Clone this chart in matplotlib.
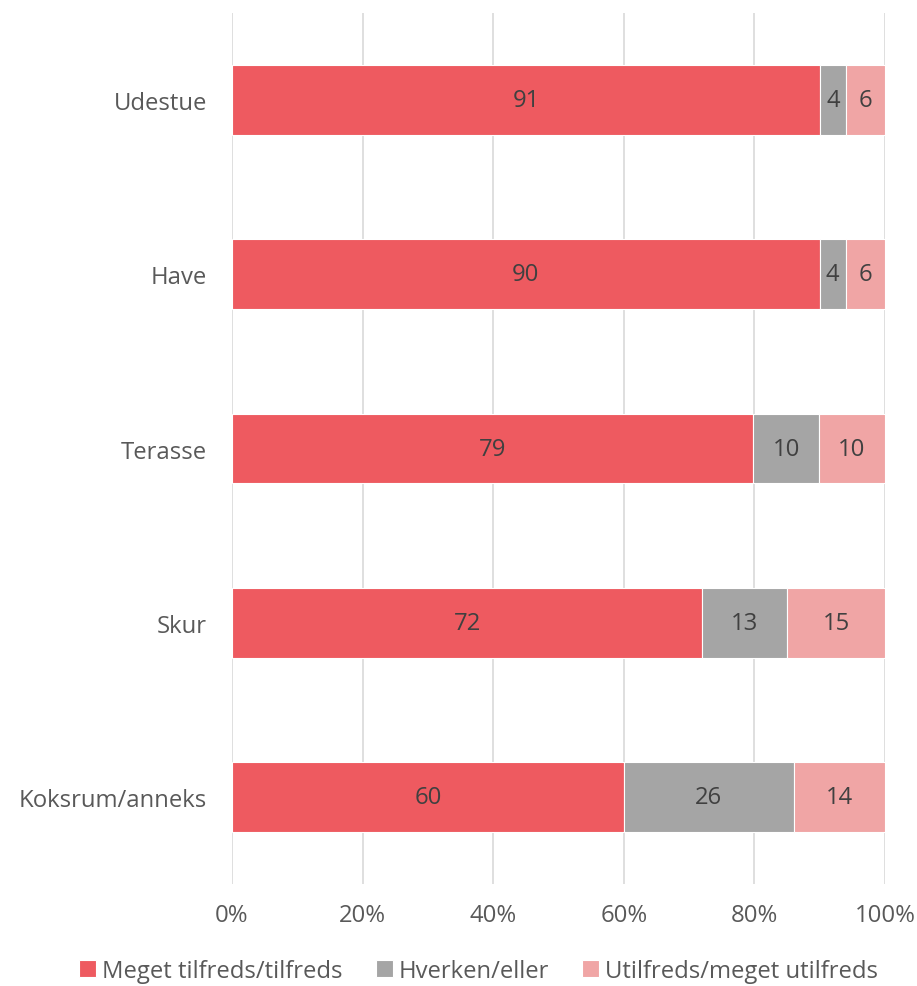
import numpy as np
import matplotlib.pyplot as plt

plt.rcParams['font.family'] = ['Open Sans', 'DejaVu Sans']

categories = ['Udestue', 'Have', 'Terasse', 'Skur', 'Koksrum/anneks']
satisfied = [91, 90, 79, 72, 60]
neutral = [4, 4, 10, 13, 26]
dissatisfied = [6, 6, 10, 15, 14]
series_names = ['Meget tilfreds/tilfreds', 'Hverken/eller', 'Utilfreds/meget utilfreds']
colors = ['#EE5A60', '#A5A5A5', '#F0A5A5']
text_color = '#595959'
fs = 17.2

data = np.array([satisfied, neutral, dissatisfied], dtype=float)
shares = data / data.sum(axis=0) * 100  # 100% stacked

fig = plt.figure(figsize=(9.17, 9.87), dpi=100)
ax = fig.add_axes([232 / 917, 1 - 885 / 987, (885 - 232) / 917, (885 - 14) / 987])

y = np.arange(len(categories))
left = np.zeros(len(categories))
for vals, share, name, col in zip(data, shares, series_names, colors):
    bars = ax.barh(y, share, left=left, height=0.4, color=col, label=name,
                   edgecolor='white', linewidth=0.8, zorder=3)
    for b, v in zip(bars, vals):
        ax.text(b.get_x() + b.get_width() / 2, b.get_y() + b.get_height() / 2,
                f'{v:.0f}', ha='center', va='center', fontsize=fs,
                color='#404040', zorder=4)
    left += share

ax.set_ylim(len(categories) - 0.5, -0.5)
ax.set_xlim(0, 100)
ax.set_yticks(y)
ax.set_yticklabels(categories, fontsize=fs, color=text_color)
ax.set_xticks(np.arange(0, 101, 20))
ax.set_xticklabels([f'{t}%' for t in range(0, 101, 20)], fontsize=fs, color=text_color)
ax.tick_params(axis='y', length=0, pad=18)
ax.tick_params(axis='x', length=0, pad=14)
ax.grid(axis='x', color='#D9D9D9', linewidth=1.2, zorder=0)
for s in ax.spines.values():
    s.set_visible(False)

handles, labels = ax.get_legend_handles_labels()
fig.legend(handles, labels, loc='center', bbox_to_anchor=(0.522, 1 - 972 / 987), ncol=3,
           frameon=False, fontsize=fs, labelcolor=text_color, handlelength=0.7,
           handleheight=0.7, handletextpad=0.25, columnspacing=1.4)

fig.savefig('out.png', dpi=100)
